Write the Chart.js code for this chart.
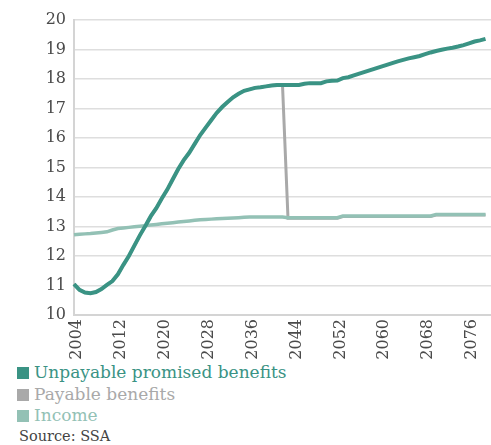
<!DOCTYPE html>
<html>
<head>
<meta charset="utf-8">
<script src="https://cdn.jsdelivr.net/npm/chart.js@4.4.1/dist/chart.umd.min.js"></script>
<style>
  html, body { margin: 0; padding: 0; background: #fff; }
  body { width: 491px; height: 445px; position: relative; overflow: hidden; font-family: "DejaVu Serif", serif; }
  #wrap { position: absolute; left: 0; top: 0; width: 491px; height: 362px; }
  #legend { position: absolute; left: 17px; top: 362px; }
  .item { height: 21.5px; line-height: 21.5px; font-size: 17px; white-space: nowrap; }
  .sw { display: inline-block; width: 12px; height: 12px; margin-right: 5px; vertical-align: -1px; }
  #source { position: absolute; left: 19px; top: 428px; font-size: 14.5px; color: #444; }
</style>
</head>
<body>
<div id="wrap"><canvas id="ssaChart"></canvas></div>
<div id="legend"></div>
<div id="source">Source: SSA</div>
<script>
// years on the x axis (2004-2080)
const years = [];
for (let y = 2004; y <= 2080; y++) years.push(String(y));

const seriesNames = ['Unpayable promised benefits', 'Payable benefits', 'Income'];
const seriesColors = ['#3a9384', '#a9a9a9', '#93c1b5'];

// % of taxable payroll
const promised = [
  11.05, 10.85, 10.76, 10.74, 10.78, 10.88, 11.02, 11.15, 11.38, 11.70,
  12.00, 12.35, 12.70, 13.02, 13.35, 13.62, 13.95, 14.25, 14.60, 14.95,
  15.25, 15.50, 15.80, 16.10, 16.35, 16.60, 16.85, 17.05, 17.22, 17.38,
  17.50, 17.60, 17.65, 17.70, 17.72, 17.75, 17.78, 17.80, 17.80, 17.80,
  17.80, 17.80, 17.84, 17.86, 17.86, 17.86, 17.92, 17.94, 17.95, 18.03,
  18.06, 18.12, 18.18, 18.24, 18.30, 18.36, 18.42, 18.48, 18.54, 18.60,
  18.65, 18.70, 18.74, 18.78, 18.84, 18.90, 18.95, 18.99, 19.03, 19.06,
  19.10, 19.15, 19.21, 19.27, 19.31, 19.36, null
];

const income = [
  12.72, 12.74, 12.75, 12.76, 12.78, 12.80, 12.82, 12.88, 12.93, 12.95,
  12.97, 12.99, 13.01, 13.03, 13.05, 13.07, 13.09, 13.11, 13.13, 13.15,
  13.17, 13.19, 13.21, 13.23, 13.24, 13.25, 13.26, 13.27, 13.28, 13.29,
  13.30, 13.31, 13.32, 13.32, 13.32, 13.32, 13.32, 13.32, 13.32, 13.30,
  13.30, 13.30, 13.30, 13.30, 13.30, 13.30, 13.30, 13.30, 13.30, 13.36,
  13.36, 13.36, 13.36, 13.36, 13.36, 13.36, 13.36, 13.36, 13.36, 13.36,
  13.36, 13.36, 13.36, 13.36, 13.36, 13.36, 13.41, 13.41, 13.41, 13.41,
  13.41, 13.41, 13.41, 13.41, 13.41, 13.41, null
];

// payable benefits follow promised until the trust fund runs out (2042), then drop to income
const payable = [
  11.05, 10.85, 10.76, 10.74, 10.78, 10.88, 11.02, 11.15, 11.38, 11.70,
  12.00, 12.35, 12.70, 13.02, 13.35, 13.62, 13.95, 14.25, 14.60, 14.95,
  15.25, 15.50, 15.80, 16.10, 16.35, 16.60, 16.85, 17.05, 17.22, 17.38,
  17.50, 17.60, 17.65, 17.70, 17.72, 17.75, 17.78, 17.80, 17.80, 13.28,
  13.28, 13.28, 13.28, 13.28, 13.28, 13.28, 13.28, 13.28, 13.28, 13.34,
  13.34, 13.34, 13.34, 13.34, 13.34, 13.34, 13.34, 13.34, 13.34, 13.34,
  13.34, 13.34, 13.34, 13.34, 13.34, 13.34, 13.39, 13.39, 13.39, 13.39,
  13.39, 13.39, 13.39, 13.39, 13.39, 13.39, null
];

const serif = '"DejaVu Serif", serif';

// html legend
const legendEl = document.getElementById('legend');
seriesNames.forEach(function(name, i) {
  const div = document.createElement('div');
  div.className = 'item';
  div.style.color = seriesColors[i];
  div.innerHTML = '<span class="sw" style="background:' + seriesColors[i] + '"></span>' + name;
  legendEl.appendChild(div);
});

new Chart(document.getElementById('ssaChart'), {
  type: 'line',
  data: {
    labels: years,
    datasets: [{
      label: seriesNames[0],
      data: promised,
      borderColor: seriesColors[0],
      borderWidth: 4,
      order: 0
    }, {
      label: seriesNames[2],
      data: income,
      borderColor: seriesColors[2],
      borderWidth: 3.5,
      order: 1
    }, {
      label: seriesNames[1],
      data: payable,
      borderColor: seriesColors[1],
      borderWidth: 3,
      order: 2
    }]
  },
  options: {
    responsive: true,
    maintainAspectRatio: false,
    animation: false,
    elements: {
      point: { radius: 0 },
      line: { tension: 0, borderCapStyle: 'butt' }
    },
    layout: {
      padding: { top: 20, right: 0, left: 0, bottom: 0 }
    },
    plugins: {
      legend: { display: false },
      tooltip: { enabled: false }
    },
    scales: {
      x: {
        offset: false,
        grid: { display: false, drawTicks: false },
        border: { display: true, color: '#d4d4d4', width: 2 },
        ticks: {
          autoSkip: false,
          minRotation: 90,
          maxRotation: 90,
          padding: 4,
          labelOffset: 3,
          color: '#4a4a4a',
          font: { family: serif, size: 16 },
          callback: function(value, index) {
            return (index % 8 === 0) ? years[index] : '';
          }
        },
        afterFit: function(scale) {
          scale.height = 47;
          scale.paddingLeft = 0;
          scale.paddingRight = 0;
        }
      },
      y: {
        min: 10,
        max: 20,
        grid: { color: '#dedede', lineWidth: 1.5, drawTicks: false },
        border: { display: true, color: '#d4d4d4', width: 2 },
        ticks: {
          stepSize: 1,
          padding: 8,
          color: '#4a4a4a',
          font: { family: serif, size: 16 }
        },
        afterFit: function(scale) { scale.width = 74; }
      }
    }
  }
});
</script>
</body>
</html>
